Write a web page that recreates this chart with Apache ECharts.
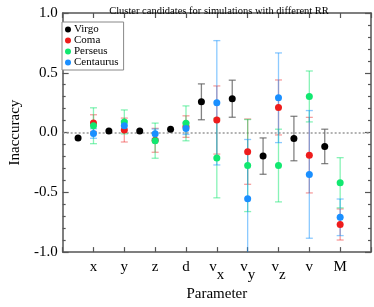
<!DOCTYPE html>
<html><head><meta charset="utf-8">
<script src="https://cdn.jsdelivr.net/npm/echarts@6/dist/echarts.min.js"></script>
<style>html,body{margin:0;padding:0;background:#fff}#c{width:374px;height:307px}</style>
</head><body><div id="c"></div>
<script>
// x positions: colored clusters at 1..9, Virgo offset by half a column
const categories = ['x','y','z','d','vx','vy','vz','v','M'];
const tickLabels = {1:'{a|x}',2:'{a|y}',3:'{a|z}',4:'{a|d}',5:'{a|v}{s|x}',6:'{a|v}{s|y}',7:'{a|v}{s|z}',8:'{a|v}',9:'{a|M}'};
const virgoX = [0.5,1.5,2.5,3.5,4.5,5.5,6.5,7.5,8.5];
const clusterX = [1,2,3,4,5,6,7,8,9];
const virgo = [-0.045,0.013,0.012,0.028,0.257,0.283,-0.197,-0.05,-0.116];
const virgoErr = [0,0,0,0,0.15,0.155,0.152,0.186,0.144];
const coma = [0.079,0.021,-0.065,0.05,0.105,-0.16,0.21,-0.189,-0.769];
const comaErr = [0.07,0.1,0.1,0.09,0.285,0.273,0.23,0.316,0.13];
const perseus = [0.057,0.089,-0.068,0.077,-0.213,-0.276,-0.276,0.302,-0.42];
const perseusErr = [0.15,0.1,0.147,0.146,0.333,0.385,0.304,0.213,0.21];
const centaurus = [-0.008,0.057,-0.011,0.034,0.249,-0.554,0.291,-0.35,-0.709];
const centaurusErr = [0.04,0.04,0.04,0.05,0.52,0.496,0.375,0.534,0.153];

const seriesDefs = [
  {name:'Virgo', xs:virgoX, ys:virgo, err:virgoErr, color:'#000000', errColor:'rgba(90,90,90,0.75)'},
  {name:'Coma', xs:clusterX, ys:coma, err:comaErr, color:'#ee1c1c', errColor:'rgba(238,40,40,0.45)'},
  {name:'Perseus', xs:clusterX, ys:perseus, err:perseusErr, color:'#11e870', errColor:'rgba(17,232,112,0.5)'},
  {name:'Centaurus', xs:clusterX, ys:centaurus, err:centaurusErr, color:'#1a8fff', errColor:'rgba(26,150,255,0.5)'}
];
const FONT = 'Liberation Serif';
const series = [];
seriesDefs.forEach(d => {
  series.push({
    type:'custom', name:d.name+' err', silent:true, clip:true, z:2,
    data: d.xs.map((x,i)=>[x, d.ys[i]-d.err[i], d.ys[i]+d.err[i]]),
    renderItem: (params, api) => {
      const lo = api.coord([api.value(0), api.value(1)]);
      const hi = api.coord([api.value(0), api.value(2)]);
      if (Math.abs(hi[1]-lo[1]) < 1) return null;
      const w = 3.5;
      const st = {stroke:d.errColor, lineWidth:1.3, fill:null};
      return {type:'group', children:[
        {type:'line', shape:{x1:lo[0],y1:lo[1],x2:hi[0],y2:hi[1]}, style:st},
        {type:'line', shape:{x1:lo[0]-w,y1:lo[1],x2:lo[0]+w,y2:lo[1]}, style:st},
        {type:'line', shape:{x1:hi[0]-w,y1:hi[1],x2:hi[0]+w,y2:hi[1]}, style:st}
      ]};
    }
  });
});
seriesDefs.forEach((d,k) => {
  const s = {
    type:'scatter', name:d.name, symbol:'circle', symbolSize:7, z:5+k,
    itemStyle:{color:d.color, opacity:1},
    data: d.xs.map((x,i)=>[x, d.ys[i]])
  };
  if (k===0) {
    s.markLine = {silent:true, symbol:'none', label:{show:false}, z:1,
      lineStyle:{color:'#999', type:[2,2], width:1.5},
      data:[{yAxis:0}]};
  }
  series.push(s);
});

const axisLine = {show:true, onZero:false, lineStyle:{color:'#555', width:1.5}};
const chart = echarts.init(document.getElementById('c'), null, {renderer:'canvas'});
chart.setOption({
  animation:false,
  backgroundColor:'#fff',
  title:{text:'Cluster candidates for simulations with different RR', left:214, top:1, textAlign:'center',
    textStyle:{fontFamily:FONT, fontSize:10.5, fontWeight:'normal', color:'#000'}},
  grid:{left:57, right:2, top:13, bottom:40},
  legend:{data:seriesDefs.map(d=>d.name), orient:'vertical', left:62, top:22, icon:'circle',
    itemWidth:6, itemHeight:6, itemGap:0, padding:[2,5,2,3],
    borderColor:'#888', borderWidth:1, backgroundColor:'#fff',
    textStyle:{fontFamily:FONT, fontSize:11, lineHeight:10, color:'#000', padding:[0,0,0,-2]}},
  xAxis:[
    {type:'value', min:0, max:10, interval:1, position:'bottom',
     name:'Parameter', nameLocation:'middle', nameGap:30,
     nameTextStyle:{fontFamily:FONT, fontSize:15, color:'#000'},
     axisLine, splitLine:{show:false},
     axisTick:{show:true, inside:true, length:5, lineStyle:{color:'#555', width:1.2}},
     axisLabel:{margin:7, color:'#000', fontFamily:FONT, fontSize:15,
       formatter:v=>tickLabels[v]||'',
       rich:{a:{fontFamily:FONT, fontSize:15, color:'#000', padding:[0,0,8,0]},
             s:{fontFamily:FONT, fontSize:15, color:'#000', padding:[8,0,0,0]}}}},
    {type:'value', min:0, max:10, interval:1, position:'top',
     axisLine, splitLine:{show:false}, axisLabel:{show:false},
     axisTick:{show:true, inside:true, length:5, lineStyle:{color:'#555', width:1.2}}}
  ],
  yAxis:[
    {type:'value', min:-1, max:1, interval:0.5, position:'left',
     name:'Inaccuracy', nameLocation:'middle', nameGap:39,
     nameTextStyle:{fontFamily:FONT, fontSize:15, color:'#000'},
     axisLine, splitLine:{show:false},
     axisTick:{show:true, inside:true, length:6, lineStyle:{color:'#555', width:1.2}},
     minorTick:{show:true, splitNumber:5, length:3, lineStyle:{color:'#555', width:1.2}},
     axisLabel:{margin:5, color:'#000', fontFamily:FONT, fontSize:15, formatter:v=>v.toFixed(1)}},
    {type:'value', min:-1, max:1, interval:0.5, position:'right',
     axisLine, splitLine:{show:false}, axisLabel:{show:false},
     axisTick:{show:true, inside:true, length:6, lineStyle:{color:'#555', width:1.2}},
     minorTick:{show:true, splitNumber:5, length:3, lineStyle:{color:'#555', width:1.2}}}
  ],
  series
});
</script></body></html>
